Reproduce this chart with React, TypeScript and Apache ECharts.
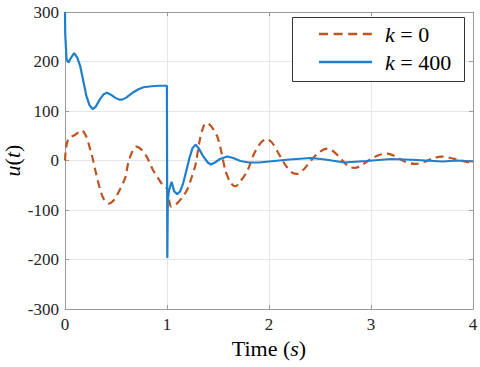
import React, { useEffect, useRef } from "react";
import * as echarts from "echarts";

const seriesNames = ["k = 0", "k = 400"];
const xTicks = [0, 1, 2, 3, 4];
const yTicks = [-300, -200, -100, 0, 100, 200, 300];

const timeK0 = [0, 0.01, 0.03, 0.06, 0.1, 0.165, 0.2, 0.23, 0.27, 0.3, 0.34, 0.38, 0.43, 0.48, 0.52, 0.59, 0.62, 0.66, 0.7, 0.75, 0.8, 0.86, 0.92, 0.96, 1.0, 1.02, 1.04, 1.08, 1.12, 1.16, 1.2, 1.24, 1.28, 1.32, 1.36, 1.39, 1.43, 1.49, 1.53, 1.57, 1.62, 1.67, 1.72, 1.79, 1.85, 1.92, 1.98, 2.03, 2.1, 2.17, 2.23, 2.28, 2.34, 2.42, 2.5, 2.57, 2.64, 2.72, 2.78, 2.84, 2.91, 3.0, 3.08, 3.16, 3.24, 3.33, 3.43, 3.52, 3.6, 3.69, 3.78, 3.88, 3.98, 4.0];
const valueK0 = [0, 25, 42, 48, 52, 61, 52, 35, 5, -22, -55, -78, -87, -80, -66, -35, -5, 18, 28, 22, 8, -18, -38, -50, -57, -80, -93, -90, -82, -72, -58, -35, -8, 40, 70, 76, 70, 50, 20, -18, -44, -52, -42, -20, 12, 36, 43, 36, 12, -12, -25, -27, -18, 2, 18, 24, 17, 0, -12, -15, -9, 3, 11, 14, 8, -2, -7, -3, 4, 8, 5, 0, -4, -4];

const timeK400 = [0, 0.002, 0.015, 0.035, 0.06, 0.09, 0.12, 0.15, 0.18, 0.21, 0.24, 0.27, 0.3, 0.34, 0.38, 0.41, 0.45, 0.49, 0.53, 0.56, 0.6, 0.67, 0.72, 0.77, 0.85, 0.92, 0.999, 1.003, 1.008, 1.02, 1.045, 1.07, 1.1, 1.13, 1.16, 1.19, 1.22, 1.25, 1.28, 1.31, 1.35, 1.4, 1.43, 1.47, 1.52, 1.59, 1.65, 1.72, 1.8, 1.9, 2.0, 2.2, 2.41, 2.55, 2.74, 2.95, 3.2, 3.45, 3.7, 3.85, 4.0];
const valueK400 = [300, 256, 205, 198, 208, 217, 208, 190, 160, 130, 112, 104, 108, 123, 134, 137, 133, 127, 123, 123, 127, 138, 144, 148, 150, 151, 151, -197, -80, -60, -43, -62, -68, -62, -45, -20, 5, 25, 32, 25, 10, -4, -8, -4, 3, 8, 5, -1, -4, -4, -2, 2, 5, 2, -4, -1, 3, 1, -2, 0, -2];

const FONT = "'Liberation Serif', 'Times New Roman', Times, serif";
const COLORS = ["#BF5321", "#1F7FCC"];

export default function App() {
  const ref = useRef<HTMLDivElement>(null);
  useEffect(() => {
    if (!ref.current) return;
    const chart = echarts.init(ref.current, null, { renderer: "svg" });
    const axisColor = "#9a9a9a";
    const labelColor = "#262626";
    const rich = {
      i: { fontStyle: "italic", fontFamily: FONT, fontSize: 22, color: "#000" },
      n: { fontFamily: FONT, fontSize: 22, color: "#000" },
    };
    const baseX = {
      type: "value" as const,
      min: xTicks[0],
      max: xTicks[xTicks.length - 1],
      interval: 1,
      axisLine: { show: true, onZero: false, lineStyle: { color: axisColor, width: 1 } },
      axisTick: { show: true, inside: true, length: 4, lineStyle: { color: axisColor } },
    };
    const baseY = {
      type: "value" as const,
      min: yTicks[0],
      max: yTicks[yTicks.length - 1],
      interval: 100,
      axisLine: { show: true, onZero: false, lineStyle: { color: axisColor, width: 1 } },
      axisTick: { show: true, inside: true, length: 4, lineStyle: { color: axisColor } },
    };
    const legendTexts = ["{i|k}{n| = 0}", "{i|k}{n| = 400}"];
    const legendRowsY = [34, 62];
    chart.setOption({
      animation: false,
      backgroundColor: "#fff",
      textStyle: { fontFamily: FONT },
      grid: { left: 65, top: 12, right: 7, bottom: 58, containLabel: false, outerBoundsMode: "none" },
      graphic: [
        {
          type: "rect",
          left: 292,
          top: 17,
          z: 100,
          shape: { width: 172, height: 64 },
          style: { fill: "#fff", stroke: "#333", lineWidth: 1 },
        },
        ...seriesNames.map((name, i) => ({
          type: "line",
          z: 101,
          shape: { x1: 319, y1: legendRowsY[i], x2: 372, y2: legendRowsY[i] },
          style: {
            stroke: COLORS[i],
            lineWidth: 2.4,
            lineDash: i === 0 ? [9, 5.6] : null,
          },
        })),
        ...seriesNames.map((name, i) => ({
          type: "text",
          z: 101,
          x: 385,
          y: legendRowsY[i],
          style: {
            text: legendTexts[i],
            fontFamily: FONT,
            fontSize: 22,
            fill: "#000",
            verticalAlign: "middle",
            rich,
          },
        })),
      ],
      xAxis: [
        {
          ...baseX,
          position: "bottom",
          name: "{n|Time (}{i|s}{n|)}",
          nameLocation: "middle",
          nameGap: 28,
          nameMoveOverlap: false,
          nameTextStyle: { rich },
          axisLabel: { show: true, margin: 7, fontFamily: FONT, fontSize: 17, color: labelColor },
          splitLine: { show: true, lineStyle: { color: "#e6e6e6", width: 1 } },
        },
        {
          ...baseX,
          position: "top",
          axisLabel: { show: false },
          splitLine: { show: false },
        },
      ],
      yAxis: [
        {
          ...baseY,
          position: "left",
          name: "{i|u}{n|(}{i|t}{n|)}",
          nameLocation: "middle",
          nameGap: 42,
          nameMoveOverlap: false,
          nameTextStyle: { rich },
          axisLabel: { show: true, margin: 6, fontFamily: FONT, fontSize: 17, color: labelColor },
          splitLine: { show: true, lineStyle: { color: "#e6e6e6", width: 1 } },
        },
        {
          ...baseY,
          position: "right",
          axisLabel: { show: false },
          splitLine: { show: false },
        },
      ],
      series: [
        {
          name: seriesNames[0],
          type: "line",
          xAxisIndex: 0,
          yAxisIndex: 0,
          symbol: "none",
          showSymbol: false,
          smooth: 0.3,
          data: timeK0.map((t, i) => [t, valueK0[i]]),
          lineStyle: { color: COLORS[0], width: 2.2, type: [8, 5] },
          itemStyle: { color: COLORS[0] },
        },
        {
          name: seriesNames[1],
          type: "line",
          xAxisIndex: 0,
          yAxisIndex: 0,
          symbol: "none",
          showSymbol: false,
          data: timeK400.map((t, i) => [t, valueK400[i]]),
          lineStyle: { color: COLORS[1], width: 2.2 },
          itemStyle: { color: COLORS[1] },
        },
      ],
    });
    return () => chart.dispose();
  }, []);
  return <div ref={ref} style={{ width: 480, height: 367, position: "absolute", left: 0, top: 0 }} />;
}
